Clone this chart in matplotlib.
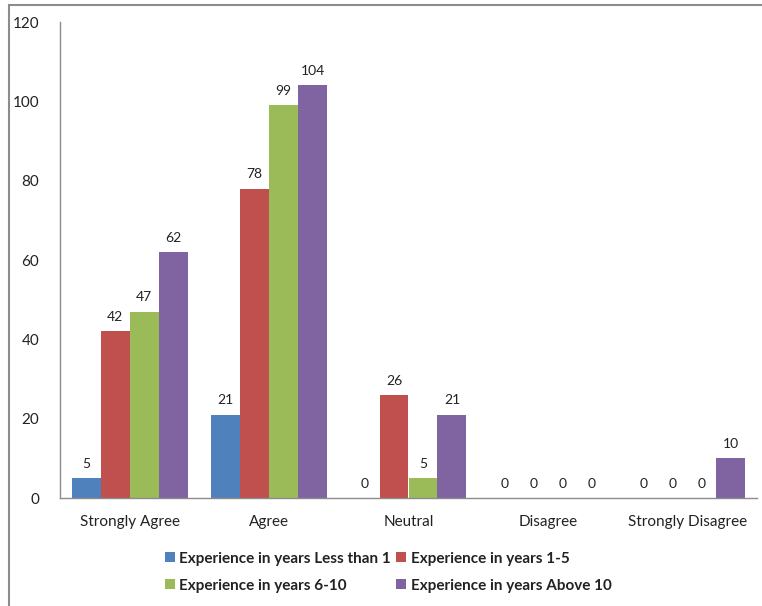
import matplotlib
matplotlib.use("Agg")
import matplotlib.pyplot as plt
from matplotlib.patches import Rectangle
import numpy as np

categories = ["Strongly Agree", "Agree", "Neutral", "Disagree", "Strongly Disagree"]
series_names = [
    "Experience in years Less than 1",
    "Experience in years 1-5",
    "Experience in years 6-10",
    "Experience in years Above 10",
]
less_than_1 = [5, 21, 0, 0, 0]
years_1_5 = [42, 78, 26, 0, 0]
years_6_10 = [47, 99, 5, 0, 0]
above_10 = [62, 104, 21, 0, 10]
y_ticks = [0, 20, 40, 60, 80, 100, 120]

colors = ["#4F81BD", "#C0504D", "#9BBB59", "#8064A2"]
plt.rcParams["font.family"] = ["Lato", "DejaVu Sans"]

fig = plt.figure(figsize=(7.62, 6.06), dpi=100)
ax = fig.add_axes([60 / 762, 1 - 498 / 606, 697 / 762, 476 / 606])

x = np.arange(len(categories))
bar_w = 0.208
all_series = [less_than_1, years_1_5, years_6_10, above_10]
handles = []
for i, (vals, name, c) in enumerate(zip(all_series, series_names, colors)):
    pos = x + (i - 1.5) * bar_w
    bars = ax.bar(pos, vals, width=bar_w, color=c, label=name, edgecolor="none")
    handles.append(bars)
    for xp, v in zip(pos, vals):
        ax.annotate(str(v), (xp, v), xytext=(0, 6), textcoords="offset points",
                    ha="center", va="bottom", fontsize=10, color="#222222")

ax.set_xlim(-0.5, len(categories) - 0.5)
ax.set_ylim(0, 120)
ax.set_yticks(y_ticks)
ax.set_yticklabels([str(t) for t in y_ticks], fontsize=11, color="#222222")
ax.set_xticks(x)
ax.set_xticklabels(categories, fontsize=11, color="#222222")
ax.tick_params(axis="y", length=0, pad=15)
ax.tick_params(axis="x", length=0, pad=12)
for s in ["top", "right"]:
    ax.spines[s].set_visible(False)
for s in ["left", "bottom"]:
    ax.spines[s].set_color("#8C8C8C")
    ax.spines[s].set_linewidth(1.0)

# legend laid out row by row: (<1, 1-5) then (6-10, >10)
order = [0, 2, 1, 3]
leg = fig.legend([handles[k] for k in order], [series_names[k] for k in order],
                 loc="upper left", bbox_to_anchor=(151 / 762, 1 - 538 / 606), ncol=2,
                 frameon=False, handlelength=0.65, handleheight=0.65, handletextpad=0.3,
                 columnspacing=0.35, labelspacing=0.85,
                 prop={"weight": "bold", "size": 11})
for t in leg.get_texts():
    t.set_color("#222222")

# outer chart-area frame
fig.patches.append(Rectangle((9 / 762, -0.05), 1.1, 1 - 5 / 606 + 0.05,
                             transform=fig.transFigure, fill=False,
                             edgecolor="#8C8C8C", linewidth=1.5))

fig.savefig("out.png", dpi=100)
